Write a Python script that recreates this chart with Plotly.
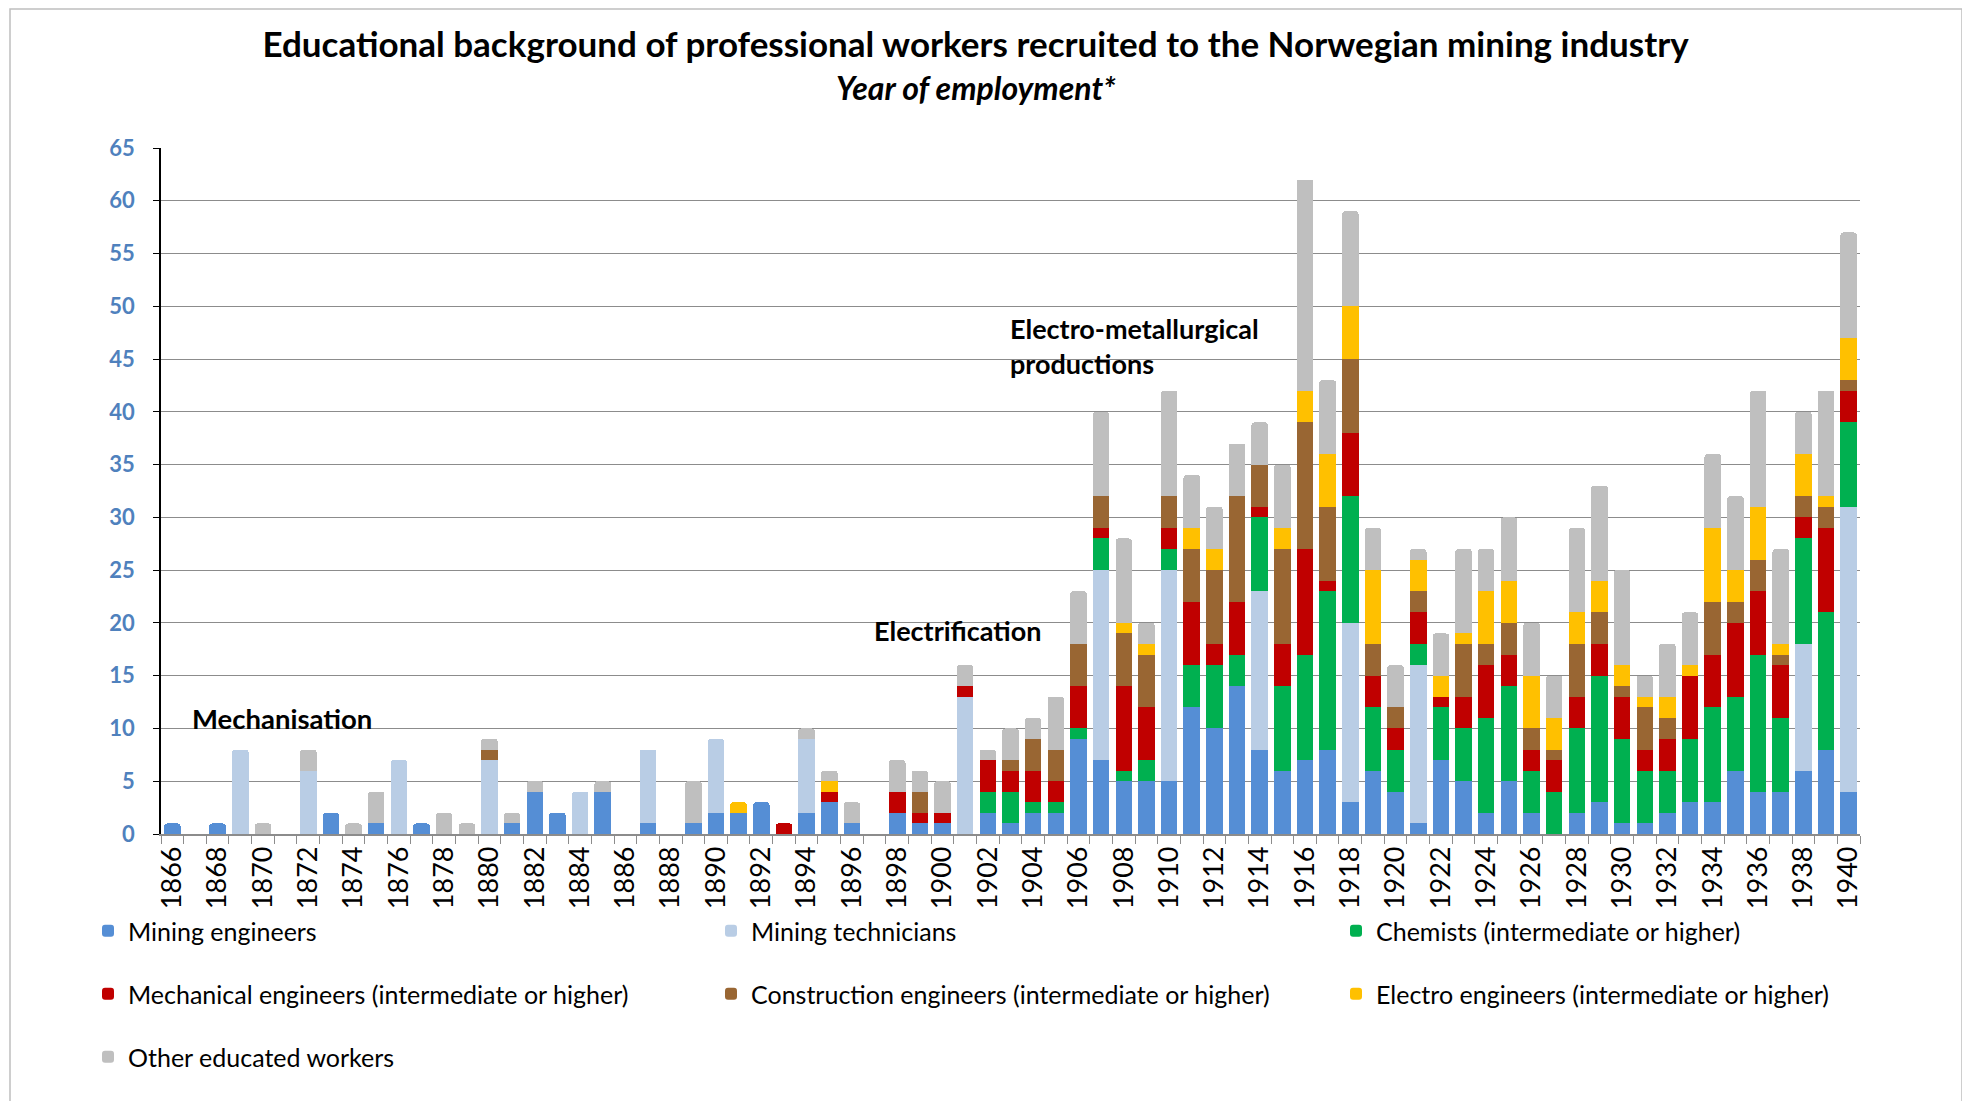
import plotly.graph_objects as go

years = list(range(1866, 1941))

mining_engineers = ([1,0,1,0,0,0,0,2,0,1] + [0,1,0,0,0,1,4,2,0,4] + [0,1,0,1,2,2,3,0,2,3] +
                    [1,0,2,1,1,0,2,1,2,2] + [9,7,5,5,5,12,10,14,8,6] + [7,8,3,6,4,1,7,5,2,5] +
                    [2,0,2,3,1,1,2,3,3,6] + [4,4,6,8,4])
mining_technicians = ([0,0,0,8,0,0,6,0,0,0] + [7,0,0,0,7,0,0,0,4,0] + [0,7,0,0,7,0,0,0,7,0] +
                      [0,0,0,0,0,13,0,0,0,0] + [0,18,0,0,20,0,0,0,15,0] + [0,0,17,0,0,15,0,0,0,0] +
                      [0,0,0,0,0,0,0,0,0,0] + [0,0,12,0,27])
chemists = ([0]*30 +
            [0,0,0,0,0,0,2,3,1,1] + [1,3,1,2,2,4,6,3,7,8] + [10,15,12,6,4,2,5,5,9,9] +
            [4,4,8,12,8,5,4,6,9,7] + [13,7,10,13,8])
mechanical = ([0]*20 + [0,0,0,0,0,0,0,1,0,1] +
              [0,0,2,1,1,1,3,2,3,2] + [4,1,8,5,2,6,2,5,1,4] + [10,1,6,3,2,3,1,3,5,3] +
              [2,3,3,3,4,2,3,6,5,7] + [6,5,2,8,3])
construction = ([0]*10 + [0,0,0,0,1,0,0,0,0,0] + [0]*10 +
                [0,0,0,2,0,0,0,1,3,3] + [4,3,5,5,3,5,7,10,4,9] + [12,7,7,3,2,2,0,5,2,3] +
                [2,1,5,3,1,4,2,0,5,2] + [3,1,2,2,1])
electro = ([0]*20 + [0,0,0,0,0,1,0,0,0,1] + [0]*10 +
           [0,0,1,1,0,2,2,0,0,2] + [3,5,5,7,0,3,2,1,5,4] + [5,3,3,3,2,1,2,1,7,3] + [5,1,4,1,4])
other = ([0,0,0,0,1,0,2,0,1,3] + [0,0,2,1,1,1,1,0,0,1] + [0,0,0,4,0,0,0,0,1,1] +
         [2,0,3,2,3,2,1,3,2,5] + [5,8,8,2,10,5,4,5,4,6] + [20,7,9,4,4,1,4,8,4,6] +
         [5,4,8,9,9,2,5,5,7,7] + [11,9,4,10,10])

series_names = ["Mining engineers", "Mining technicians", "Chemists (intermediate or higher)",
                "Mechanical engineers (intermediate or higher)", "Construction engineers (intermediate or higher)",
                "Electro engineers (intermediate or higher)", "Other educated workers"]
series_values = [mining_engineers, mining_technicians, chemists, mechanical, construction, electro, other]
series_colors = ["#558ED5", "#B9CDE5", "#00B050", "#C00000", "#996633", "#FFC000", "#BFBFBF"]

xtick_labels = [str(y) for y in range(1866, 1941, 2)]
ytick_values = list(range(0, 66, 5))

FONT = "Lato, Liberation Sans, sans-serif"

# page body has an 8px margin: figure coords = screen coords - 8
W, H = 1962, 1093
L, R, T, B = 153, 1852, 140, 826          # plot area in figure pixels
PW, PH = R - L, B - T

def px_x(x):
    return (x - L) / PW

def px_y(y):
    return (B - y) / PH

# legend grid: 3 columns x 3 rows (left edge of each legend box, row centre), figure pixels
legend_cols = [80, 703, 1328]
legend_rows = [923, 986, 1049]

fig = go.Figure()
layout_legends = {}
for i, (name, vals, col) in enumerate(zip(series_names, series_values, series_colors)):
    key = "legend" if i == 0 else f"legend{i + 1}"
    fig.add_trace(go.Bar(x=years, y=vals, name=name, marker=dict(color=col, line=dict(width=0)),
                         legend=key))
    layout_legends[key] = dict(orientation="h", xanchor="left", yanchor="middle",
                               x=px_x(legend_cols[i % 3]), y=px_y(legend_rows[i // 3]),
                               font=dict(size=25, family=FONT, color="black"),
                               itemwidth=30, bgcolor="rgba(0,0,0,0)")

fig.update_layout(
    width=W, height=H,
    barmode="stack", bargap=0.27, barcornerradius=3,
    plot_bgcolor="white", paper_bgcolor="white",
    margin=dict(l=L, r=W - R, t=T, b=H - B, autoexpand=False),
    font=dict(family=FONT, color="black"),
    title=dict(text="Educational background of professional workers recruited to the Norwegian mining industry",
               x=967.6 / W, xanchor="center", y=1 - 37 / H, yanchor="middle", yref="container",
               font=dict(size=35, color="black", family=FONT, weight="bold")),
    xaxis=dict(range=[1865.5, 1940.5], tickmode="array", tickvals=list(range(1866, 1941, 2)),
               ticktext=xtick_labels, tickangle=-90, ticks="", showgrid=False,
               showline=True, linecolor="#8C8C8C", linewidth=1.5,
               tickfont=dict(size=27, color="black", family=FONT),
               minor=dict(tickmode="linear", tick0=1865.5, dtick=1, ticks="outside", ticklen=8,
                          tickcolor="#8C8C8C", tickwidth=1.2, showgrid=False),
               zeroline=False),
    yaxis=dict(range=[0, 65], tickmode="array", tickvals=ytick_values, showgrid=True,
               gridcolor="#8C8C8C", gridwidth=1.3, showline=True, linecolor="black", linewidth=1.5,
               ticks="outside", ticklen=6, tickcolor="black", ticklabelstandoff=14,
               tickfont=dict(size=22, color="#4F81BD", family=FONT, weight="bold"), zeroline=False),
    showlegend=True,
    **layout_legends,
)

fig.add_annotation(text="<b><i>Year of employment*</i></b>", xref="paper", yref="paper",
                   x=px_x(967.6), y=px_y(80), xanchor="center", yanchor="middle", showarrow=False,
                   font=dict(size=32, color="black", family=FONT))
fig.add_annotation(text="<b>Mechanisation</b>", x=1866.8, y=10.9, xanchor="left", yanchor="middle",
                   showarrow=False, font=dict(size=27.5, color="black", family=FONT))
fig.add_annotation(text="<b>Electrification</b>", x=1896.9, y=19.3, xanchor="left", yanchor="middle",
                   showarrow=False, font=dict(size=27, color="black", family=FONT))
fig.add_annotation(text="<b>Electro-metallurgical<br>productions</b>", x=1902.9, y=46.2, xanchor="left",
                   yanchor="middle", align="left", showarrow=False,
                   font=dict(size=27, color="black", family=FONT))

# outer chart frame
fig.add_shape(type="rect", xref="paper", yref="paper", x0=px_x(2), x1=px_x(1954),
              y0=px_y(1110), y1=px_y(1), line=dict(color="#BFBFBF", width=1.5),
              fillcolor="rgba(0,0,0,0)", layer="below")

fig.write_html("out.html")
